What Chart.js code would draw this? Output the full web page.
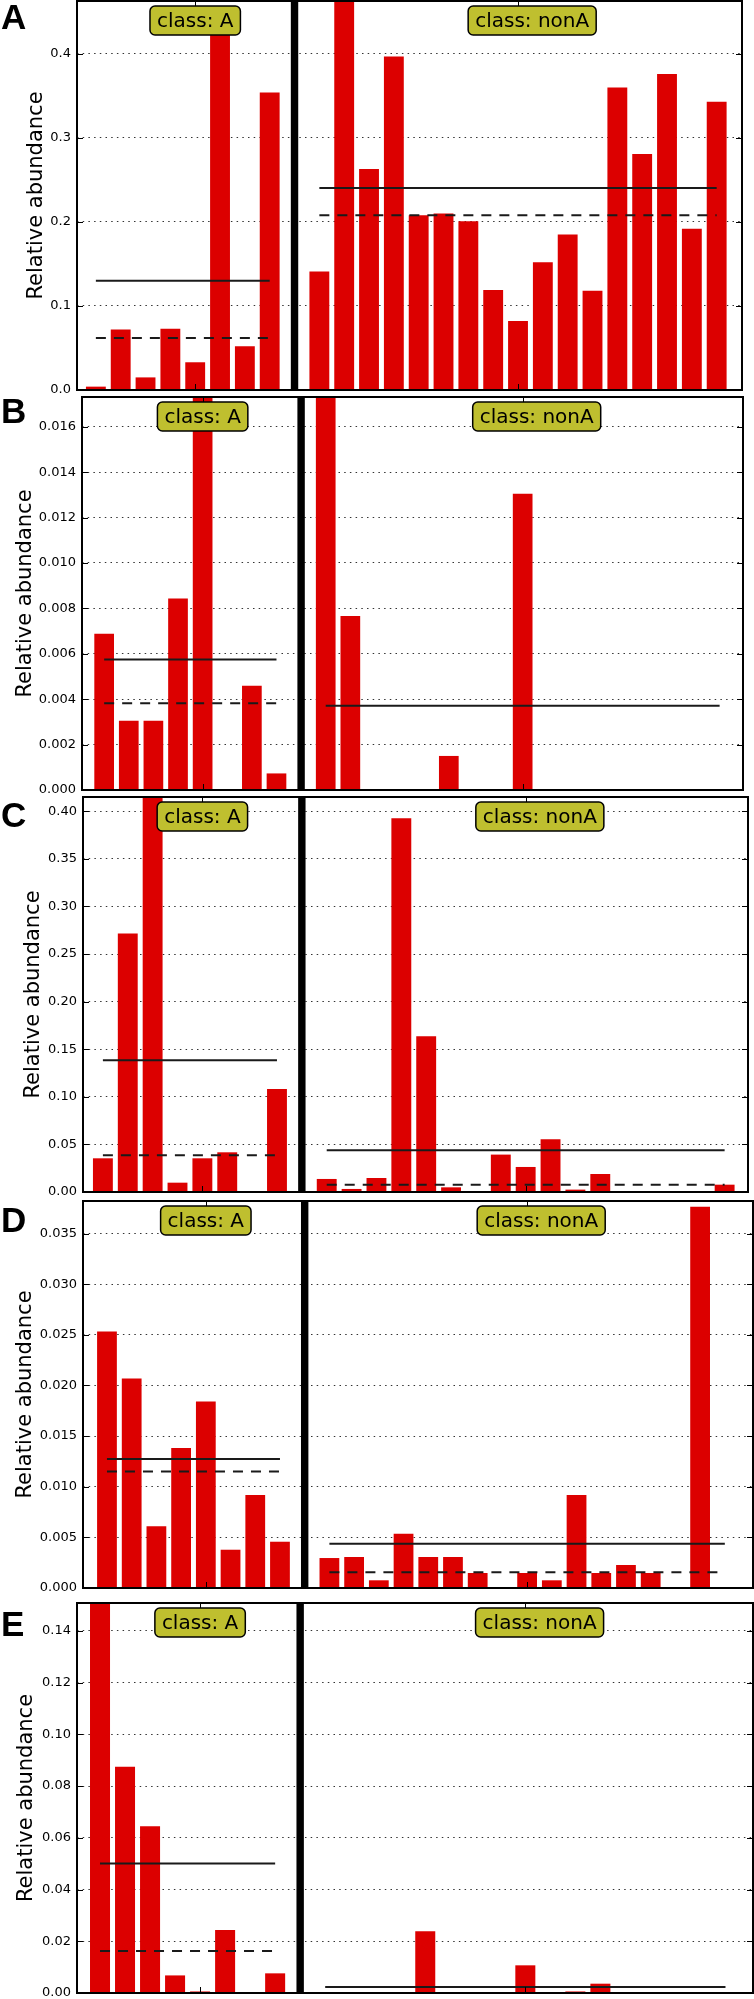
<!DOCTYPE html>
<html>
<head>
<meta charset="utf-8">
<script src="https://cdn.jsdelivr.net/npm/chart.js@4.4.0/dist/chart.umd.min.js"></script>
<style>
  body { margin: 0; background: #fff; }
  #wrap { position: relative; width: 754px; height: 1999px; overflow: hidden; background: #fff; }
  #wrap canvas { position: absolute; left: 0; }
</style>
</head>
<body>
<div id="wrap"></div>
<script>
// ---- data ----
var classLabels = ['class: A', 'class: nonA'];

// panel A
var aBarsA    = [0.004, 0.072, 0.015, 0.073, 0.033, 0.436, 0.052, 0.354];
var aBarsNonA = [0.141, 0.463, 0.263, 0.397, 0.208, 0.210, 0.201, 0.119, 0.082, 0.152, 0.185, 0.118, 0.360, 0.281, 0.376, 0.192, 0.343];
var aMean     = [0.130, 0.2405];
var aMedian   = [0.062, 0.208];
var aTicks    = [0, 0.1, 0.2, 0.3, 0.4];
var aTickLabels = ['0.0', '0.1', '0.2', '0.3', '0.4'];

// panel B
var bBarsA    = [0.00688, 0.00305, 0.00305, 0.00844, 0.0193, 0, 0.00459, 0.00073];
var bBarsNonA = [0.0409, 0.00766, 0, 0, 0, 0.0015, 0, 0, 0.01305, 0, 0, 0, 0, 0, 0, 0, 0];
var bMean     = [0.00575, 0.00371];
var bMedian   = [0.00382, 0];
var bTicks    = [0, 0.002, 0.004, 0.006, 0.008, 0.010, 0.012, 0.014, 0.016];
var bTickLabels = ['0.000', '0.002', '0.004', '0.006', '0.008', '0.010', '0.012', '0.014', '0.016'];

// panel C
var cBarsA    = [0.0354, 0.2717, 0.606, 0.0098, 0.0354, 0.0417, 0, 0.1083];
var cBarsNonA = [0.0137, 0.0032, 0.0147, 0.3927, 0.1637, 0.0049, 0, 0.0393, 0.0263, 0.0554, 0.0025, 0.0189, 0, 0, 0, 0, 0.0077];
var cMean     = [0.1385, 0.0438];
var cMedian   = [0.0386, 0.0077];
var cTicks    = [0, 0.05, 0.10, 0.15, 0.20, 0.25, 0.30, 0.35, 0.40];
var cTickLabels = ['0.00', '0.05', '0.10', '0.15', '0.20', '0.25', '0.30', '0.35', '0.40'];

// panel D
var dBarsA    = [0.02533, 0.02069, 0.00609, 0.01382, 0.01842, 0.00378, 0.00918, 0.00457];
var dBarsNonA = [0.00296, 0.00306, 0.00076, 0.00536, 0.00306, 0.00306, 0.00148, 0, 0.00148, 0.00076, 0.00918, 0.00148, 0.00227, 0.00148, 0, 0.03766, 0];
var dMean     = [0.01274, 0.004375];
var dMedian   = [0.0115, 0.00155];
var dTicks    = [0, 0.005, 0.010, 0.015, 0.020, 0.025, 0.030, 0.035];
var dTickLabels = ['0.000', '0.005', '0.010', '0.015', '0.020', '0.025', '0.030', '0.035'];

// panel E
var eBarsA    = [0.2094, 0.0875, 0.0645, 0.0068, 0.0006, 0.0244, 0, 0.0076];
var eBarsNonA = [0, 0, 0, 0, 0.0239, 0, 0, 0, 0.0107, 0, 0.0006, 0.0036, 0, 0, 0, 0, 0];
var eMean     = [0.0501, 0.0023];
var eMedian   = [0.0162, 0];
var eTicks    = [0, 0.02, 0.04, 0.06, 0.08, 0.10, 0.12, 0.14];
var eTickLabels = ['0.00', '0.02', '0.04', '0.06', '0.08', '0.10', '0.12', '0.14'];

// ---- layout ----
var PAD = 20;
var SEP_SLOT = 8;          // slot taken by the divider between the classes
var NONA_START = 9;
var GROUP_TICKS = [4, 17];
var BOX_POS = [4, 17.57];
var FONT = "'DejaVu Sans', 'Liberation Sans', sans-serif";

var panels = [
  { letter: 'A', barsA: aBarsA, barsNonA: aBarsNonA, mean: aMean, median: aMedian, ticks: aTicks, labels: aTickLabels,
    top: 1, bottom: 390, left: 77, right: 742, xmin: -0.76, xmax: 26.02, ymax: 0.463, titlePad: 24.4, letterBase: 28 },
  { letter: 'B', barsA: bBarsA, barsNonA: bBarsNonA, mean: bMean, median: bMedian, ticks: bTicks, labels: bTickLabels,
    top: 397, bottom: 790, left: 82, right: 743, xmin: -0.9, xmax: 25.95, ymax: 0.01731, titlePad: 12.9, letterBase: 26 },
  { letter: 'C', barsA: cBarsA, barsNonA: cBarsNonA, mean: cMean, median: cMedian, ticks: cTicks, labels: cTickLabels,
    top: 797, bottom: 1192, left: 83, right: 748, xmin: -0.8, xmax: 25.94, ymax: 0.415, titlePad: 21.4, letterBase: 30 },
  { letter: 'D', barsA: dBarsA, barsNonA: dBarsNonA, mean: dMean, median: dMedian, ticks: dTicks, labels: dTickLabels,
    top: 1201, bottom: 1588, left: 83, right: 753, xmin: -0.97, xmax: 26.14, ymax: 0.03822, titlePad: 12.9, letterBase: 31 },
  { letter: 'E', barsA: eBarsA, barsNonA: eBarsNonA, mean: eMean, median: eMedian, ticks: eTicks, labels: eTickLabels,
    top: 1603, bottom: 1993, left: 77, right: 753, xmin: -0.92, xmax: 26.1, ymax: 0.1508, titlePad: 13.9, letterBase: 33 }
];

function roundBox(ctx, x, y, w, h, r) {
  ctx.beginPath();
  ctx.moveTo(x + r, y);
  ctx.lineTo(x + w - r, y);
  ctx.arcTo(x + w, y, x + w, y + r, r);
  ctx.lineTo(x + w, y + h - r);
  ctx.arcTo(x + w, y + h, x + w - r, y + h, r);
  ctx.lineTo(x + r, y + h);
  ctx.arcTo(x, y + h, x, y + h - r, r);
  ctx.lineTo(x, y + r);
  ctx.arcTo(x, y, x + r, y, r);
  ctx.closePath();
}

function seg(ctx, x1, y1, x2, y2) {
  ctx.beginPath(); ctx.moveTo(x1, y1); ctx.lineTo(x2, y2); ctx.stroke();
}

// divider, inward ticks, frame, class boxes and panel letter
var panelDecor = {
  id: 'panelDecor',
  afterDatasetsDraw: function(chart, args, opts) {
    var ctx = chart.ctx, a = chart.chartArea;
    var xs = chart.scales.x, ys = chart.scales.y;
    var p = opts.panel;
    ctx.save();

    var sx = xs.getPixelForValue(SEP_SLOT);
    ctx.fillStyle = '#000';
    ctx.fillRect(sx - 3.7, a.top, 7.4, a.bottom - a.top);

    ctx.strokeStyle = '#000';
    ctx.lineWidth = 1;
    GROUP_TICKS.forEach(function(v) {
      var x = Math.round(xs.getPixelForValue(v)) + 0.5;
      seg(ctx, x, a.bottom, x, a.bottom - 6);
      seg(ctx, x, a.top, x, a.top + 6);
    });
    p.ticks.forEach(function(v) {
      var y = Math.round(ys.getPixelForValue(v)) + 0.5;
      seg(ctx, a.left, y, a.left + 6, y);
      seg(ctx, a.right, y, a.right - 6, y);
    });

    ctx.lineWidth = 2;
    ctx.strokeRect(a.left, a.top, a.right - a.left, a.bottom - a.top);

    ctx.font = '20px ' + FONT;
    ctx.textAlign = 'center';
    ctx.textBaseline = 'middle';
    classLabels.forEach(function(txt, i) {
      var cx = xs.getPixelForValue(BOX_POS[i]);
      var w = ctx.measureText(txt).width + 14;
      var h = 29, y0 = a.top + 5;
      roundBox(ctx, cx - w / 2, y0, w, h, 5);
      ctx.fillStyle = '#bfbf2f';
      ctx.fill();
      ctx.lineWidth = 1.5;
      ctx.strokeStyle = '#000';
      ctx.stroke();
      ctx.fillStyle = '#000';
      ctx.fillText(txt, cx, y0 + h / 2 + 1);
    });

    ctx.font = "bold 35px 'Liberation Sans', Arial, sans-serif";
    ctx.textAlign = 'left';
    ctx.textBaseline = 'alphabetic';
    ctx.fillStyle = '#000';
    ctx.fillText(p.letter, 1, a.top + p.letterBase);
    ctx.restore();
  }
};

var wrap = document.getElementById('wrap');

panels.forEach(function(p) {
  var canvas = document.createElement('canvas');
  var h = p.bottom - p.top + 2 * PAD;
  canvas.width = 754;
  canvas.height = h;
  canvas.style.width = '754px';
  canvas.style.height = h + 'px';
  canvas.style.top = (p.top - PAD) + 'px';
  wrap.appendChild(canvas);

  var bars = p.barsA.map(function(v, i) { return { x: i, y: v }; })
    .concat(p.barsNonA.map(function(v, j) { return { x: NONA_START + j, y: v }; }));
  var lastA = p.barsA.length - 1;
  var lastN = NONA_START + p.barsNonA.length - 1;

  function hline(val, x0, x1, dashed) {
    return {
      type: 'line',
      data: [{ x: x0, y: val }, { x: x1, y: val }],
      borderColor: '#1a1a1a',
      borderWidth: 2,
      borderDash: dashed ? [10, 8] : [],
      pointRadius: 0,
      fill: false,
      order: 1
    };
  }

  new Chart(canvas, {
    type: 'bar',
    data: {
      datasets: [
        { type: 'bar', data: bars, backgroundColor: '#dc0000', borderWidth: 0,
          barPercentage: 0.8, categoryPercentage: 1.0, order: 3 },
        hline(p.mean[0], 0, lastA, false),
        hline(p.median[0], 0, lastA, true),
        hline(p.mean[1], NONA_START, lastN, false),
        hline(p.median[1], NONA_START, lastN, true)
      ]
    },
    options: {
      responsive: false,
      animation: false,
      layout: { padding: { left: 0, right: 754 - p.right, top: PAD, bottom: PAD } },
      plugins: {
        legend: { display: false },
        tooltip: { enabled: false },
        panelDecor: { panel: p }
      },
      scales: {
        x: {
          type: 'linear',
          display: true,
          offset: false,
          bounds: 'data',
          grace: 0,
          min: p.xmin,
          max: p.xmax,
          ticks: { display: false },
          grid: { display: false, drawTicks: false, offset: false },
          border: { display: false },
          afterBuildTicks: function(s) { s.ticks = GROUP_TICKS.map(function(v) { return { value: v }; }); },
          afterFit: function(s) { s.height = 0; }
        },
        y: {
          min: 0,
          max: p.ymax,
          afterBuildTicks: function(s) { s.ticks = p.ticks.map(function(v) { return { value: v }; }); },
          afterFit: function(s) { s.width = p.left; },
          ticks: {
            callback: function(v, i) { return p.labels[i]; },
            padding: 6,
            color: '#000',
            font: { family: FONT, size: 13 }
          },
          grid: { drawTicks: false, color: 'rgba(0,0,0,0.8)', lineWidth: 1 },
          border: { display: false, dash: [1.5, 4.2] },
          title: {
            display: true,
            text: 'Relative abundance',
            color: '#000',
            font: { family: FONT, size: 21 },
            padding: { top: p.titlePad, bottom: 0 }
          }
        }
      }
    },
    plugins: [panelDecor]
  });
});
</script>
</body>
</html>
